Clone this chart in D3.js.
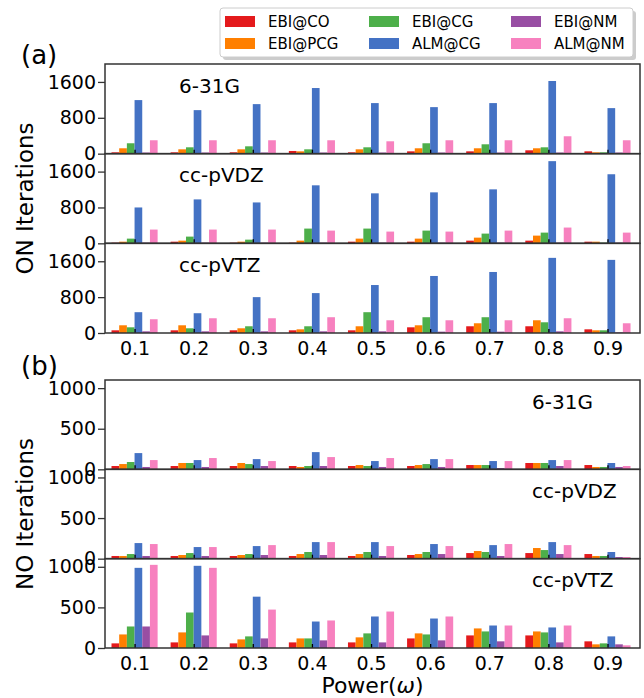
<!DOCTYPE html>
<html>
<head>
<meta charset="utf-8">
<script src="https://cdnjs.cloudflare.com/ajax/libs/d3/7.8.5/d3.min.js"></script>
<style>
  body { margin: 0; background: #fff; }
  text { font-family: "DejaVu Sans", sans-serif; fill: #000; }
</style>
</head>
<body>
<div id="area"></div>
<script>
// categories and series
const powers = ['0.1', '0.2', '0.3', '0.4', '0.5', '0.6', '0.7', '0.8', '0.9'];
const seriesNames = ['EBI@CO', 'EBI@PCG', 'EBI@CG', 'ALM@CG', 'EBI@NM', 'ALM@NM'];
const seriesColors = ['#e41a1c', '#ff7f00', '#4daf4a', '#4472c4', '#984ea3', '#f781bf'];

// (a) ON iterations, one row per series
const on631G = [
    [30, 30, 30, 60, 30, 52, 52, 75, 52],
    [120, 97, 97, 52, 97, 120, 120, 120, 30],
    [232, 142, 164, 97, 142, 232, 209, 142, 30],
    [1195, 971, 1105, 1464, 1128, 1038, 1128, 1621, 1016],
    [25, 25, 25, 25, 25, 25, 25, 25, 25],
    [299, 299, 299, 299, 276, 299, 299, 388, 299]
];
const onVDZ = [
    [15, 37, 15, 15, 37, 37, 60, 60, 37],
    [37, 60, 37, 60, 105, 105, 127, 172, 37],
    [105, 150, 82, 329, 329, 284, 217, 239, 15],
    [800, 980, 912, 1294, 1115, 1137, 1204, 1833, 1541],
    [15, 15, 15, 15, 15, 15, 15, 15, 15],
    [307, 307, 307, 284, 262, 262, 284, 352, 239]
];
const onVTZ = [
    [60, 60, 60, 60, 60, 127, 150, 150, 82],
    [172, 172, 105, 82, 150, 172, 217, 284, 60],
    [127, 105, 150, 150, 464, 352, 352, 239, 60],
    [464, 441, 800, 890, 1070, 1272, 1361, 1676, 1631],
    [37, 37, 37, 37, 37, 30, 30, 37, 15],
    [307, 329, 329, 352, 284, 284, 284, 329, 217]
];

// (b) NO iterations
const no631G = [
    [41, 41, 41, 41, 41, 41, 53, 78, 53],
    [65, 78, 78, 29, 53, 53, 53, 78, 29],
    [90, 78, 65, 41, 41, 65, 53, 78, 29],
    [200, 114, 126, 212, 102, 126, 102, 114, 78],
    [29, 29, 41, 41, 29, 29, 16, 41, 29],
    [114, 139, 102, 151, 139, 126, 102, 114, 41]
];
const noVDZ = [
    [33, 33, 33, 33, 33, 45, 69, 69, 57],
    [33, 45, 45, 57, 57, 57, 94, 131, 33],
    [57, 69, 57, 82, 82, 82, 82, 106, 33],
    [192, 143, 155, 204, 204, 180, 167, 204, 82],
    [33, 33, 45, 45, 33, 57, 33, 57, 20],
    [180, 143, 167, 204, 155, 155, 180, 167, 20]
];
const noVTZ = [
    [57, 69, 57, 69, 69, 118, 155, 155, 82],
    [167, 192, 106, 118, 131, 180, 241, 204, 45],
    [265, 437, 143, 118, 180, 167, 204, 192, 57],
    [987, 1012, 632, 326, 388, 363, 277, 253, 143],
    [265, 155, 118, 94, 69, 94, 82, 69, 45],
    [1024, 987, 473, 339, 449, 388, 277, 277, 33]
];

const onTicks = [0, 800, 1600];
const noTicks = [0, 500, 1000];

var width = 644, height = 698;
var left = 105, right = 640;
var barW = 0.13;
var frameColor = '#333';

var svg = d3.select('#area').append('svg')
    .attr('width', width)
    .attr('height', height);

var x = d3.scaleLinear().domain([-0.5, 8.55]).range([left, right]);

function drawPanel(top, bottom, data, yMax, ticks, label, labelX, showX) {
    var y = d3.scaleLinear().domain([0, yMax]).range([bottom, top]);
    var g = svg.append('g');

    // bars
    data.forEach(function (vals, k) {
        g.selectAll('rect.s' + k)
            .data(vals)
            .enter().append('rect')
            .attr('class', 's' + k)
            .attr('x', (d, i) => x(i + (k - 3) * barW))
            .attr('width', x(barW) - x(0))
            .attr('y', d => y(d))
            .attr('height', d => y(0) - y(d))
            .attr('fill', seriesColors[k]);
    });

    // y axis, ticks outside
    var yAxis = g.append('g')
        .attr('transform', 'translate(' + left + ',0)')
        .call(d3.axisLeft(y).tickValues(ticks).tickFormat(d3.format('d'))
            .tickSize(7).tickPadding(2));
    yAxis.select('.domain').remove();
    yAxis.selectAll('line').attr('stroke', frameColor).attr('stroke-width', 1.3);
    yAxis.selectAll('text')
        .style('font-family', '"DejaVu Sans", sans-serif')
        .style('font-size', '19px')
        .attr('fill', '#000');

    // x ticks, inside
    var xAxis = g.append('g')
        .attr('transform', 'translate(0,' + bottom + ')')
        .call(d3.axisBottom(x).tickValues(d3.range(powers.length))
            .tickSizeInner(-4).tickSizeOuter(0).tickPadding(8)
            .tickFormat(i => showX ? powers[i] : ''));
    xAxis.select('.domain').remove();
    xAxis.selectAll('line').attr('stroke', '#000').attr('stroke-width', 1.3);
    xAxis.selectAll('text')
        .style('font-family', '"DejaVu Sans", sans-serif')
        .style('font-size', '19px')
        .attr('fill', '#000')
        .attr('y', 0)
        .attr('dy', 0)
        .attr('transform', 'translate(0,22)');

    // frame
    g.append('rect')
        .attr('x', left).attr('y', top)
        .attr('width', right - left).attr('height', bottom - top)
        .attr('fill', 'none')
        .attr('stroke', frameColor)
        .attr('stroke-width', 1.5);

    g.append('text')
        .attr('x', labelX).attr('y', top + 28.5)
        .style('font-size', '20px')
        .text(label);
}

var aTop = 64, aBot = 333, bTop = 380, bBot = 648;
var ah = (aBot - aTop) / 3, bh = (bBot - bTop) / 3;

drawPanel(aTop, aTop + ah, on631G, 2000, onTicks, '6-31G', 179, false);
drawPanel(aTop + ah, aTop + 2 * ah, onVDZ, 2000, onTicks, 'cc-pVDZ', 179, false);
drawPanel(aTop + 2 * ah, aBot, onVTZ, 2000, onTicks, 'cc-pVTZ', 179, true);

drawPanel(bTop, bTop + bh, no631G, 1100, noTicks, '6-31G', 532, false);
drawPanel(bTop + bh, bTop + 2 * bh, noVDZ, 1100, noTicks, 'cc-pVDZ', 532, false);
drawPanel(bTop + 2 * bh, bBot, noVTZ, 1100, noTicks, 'cc-pVTZ', 532, true);

// panel tags and axis labels
svg.append('text').attr('x', 21).attr('y', 64).style('font-size', '26px').text('(a)');
svg.append('text').attr('x', 21).attr('y', 375).style('font-size', '26px').text('(b)');

svg.append('text')
    .attr('transform', 'translate(33,' + ((aTop + aBot) / 2) + ') rotate(-90)')
    .attr('text-anchor', 'middle')
    .style('font-size', '23px')
    .text('ON Iterations');
svg.append('text')
    .attr('transform', 'translate(33,' + ((bTop + bBot) / 2) + ') rotate(-90)')
    .attr('text-anchor', 'middle')
    .style('font-size', '23px')
    .text('NO Iterations');

var xl = svg.append('text')
    .attr('x', (left + right) / 2).attr('y', 693)
    .attr('text-anchor', 'middle')
    .style('font-size', '22px');
xl.append('tspan').text('Power(');
xl.append('tspan').style('font-style', 'italic').text('ω');
xl.append('tspan').text(')');

// legend, column-major like matplotlib ncol=3
var lg = svg.append('g');
lg.append('rect')
    .attr('x', 223).attr('y', 11).attr('width', 413).attr('height', 49)
    .attr('rx', 3).attr('fill', '#999').attr('opacity', 0.5);
lg.append('rect')
    .attr('x', 220).attr('y', 8).attr('width', 413).attr('height', 49)
    .attr('rx', 3).attr('fill', '#fff').attr('stroke', '#ccc').attr('stroke-width', 1);

var colX = [225, 369, 511];
var rowY = [21.5, 43.5];
seriesNames.forEach(function (name, k) {
    var c = Math.floor(k / 2), r = k % 2;
    lg.append('rect')
        .attr('x', colX[c]).attr('y', rowY[r] - 5.5)
        .attr('width', 30).attr('height', 11)
        .attr('fill', seriesColors[k]);
    lg.append('text')
        .attr('x', colX[c] + 43).attr('y', rowY[r] + 5.5)
        .style('font-size', '15px')
        .text(name);
});
</script>
</body>
</html>
